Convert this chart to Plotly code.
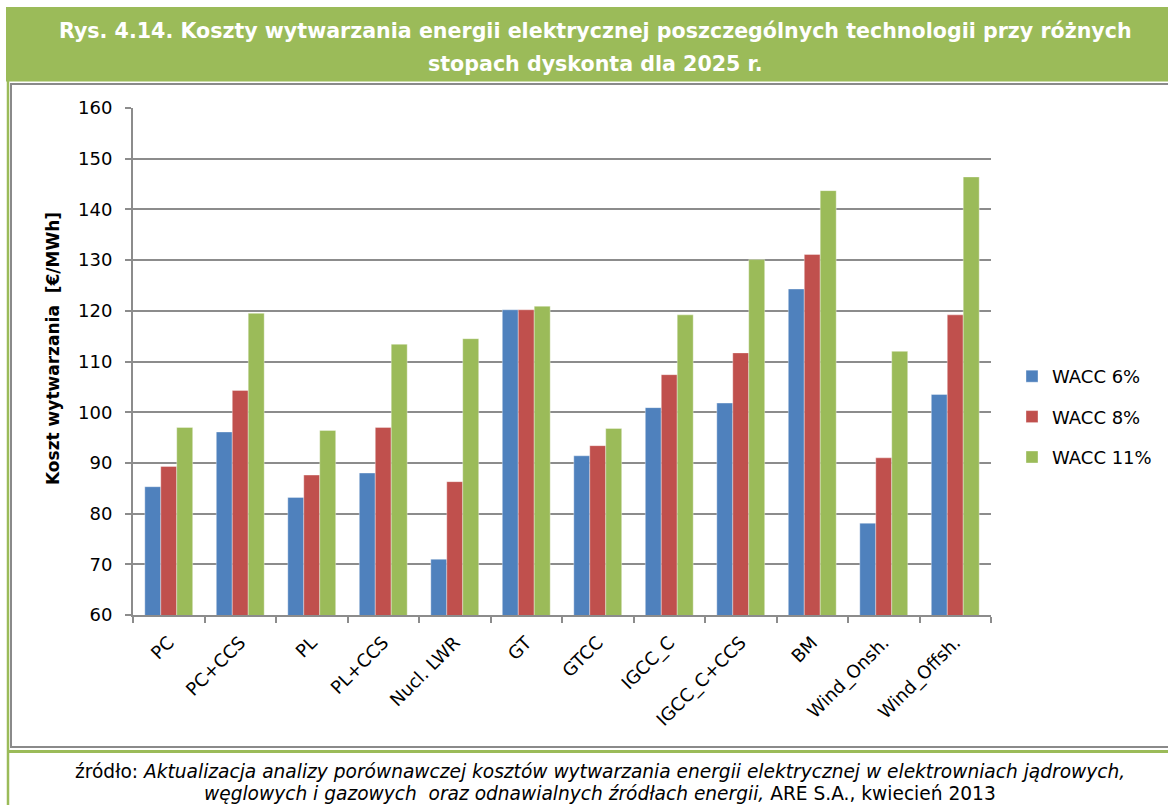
import plotly.graph_objects as go

# dane (EUR/MWh, 2025 r.)
technologie = ["PC", "PC+CCS", "PL", "PL+CCS", "Nucl. LWR", "GT", "GTCC",
               "IGCC_C", "IGCC_C+CCS", "BM", "Wind_Onsh.", "Wind_Offsh."]
wacc_6 = [85.3, 96.1, 83.2, 88.0, 71.0, 120.2, 91.4, 100.9, 101.8, 124.3, 78.1, 103.5]
wacc_8 = [89.3, 104.3, 87.6, 97.0, 86.3, 120.2, 93.4, 107.4, 111.7, 131.1, 91.0, 119.2]
wacc_11 = [97.0, 119.5, 96.4, 113.4, 114.5, 120.9, 96.8, 119.2, 130.1, 143.7, 112.0, 146.4]
serie_nazwy = ["WACC 6%", "WACC 8%", "WACC 11%"]
kolory = ["#4F81BD", "#C0504D", "#9BBB59"]

W, H = 1168, 805
L, R, T, B = 133, 991, 108, 615


def px(x):
    return (x - L) / (R - L)


def py(y):
    return (B - y) / (B - T)


fig = go.Figure()
for nazwa, wartosci, kolor in zip(serie_nazwy, [wacc_6, wacc_8, wacc_11], kolory):
    fig.add_trace(go.Bar(
        x=technologie, y=wartosci, name=nazwa,
        marker=dict(color=kolor, line=dict(color="rgba(255,255,255,0.45)", width=0.8)),
        legendgroup=nazwa,
    ))

grid_col = "#8c8c8c"

fig.update_xaxes(
    showline=True, linecolor=grid_col, linewidth=2,
    ticks="outside", ticklen=6, tickcolor=grid_col, tickwidth=1.5,
    tickson="boundaries", tickangle=-45, ticklabelstandoff=8,
    tickfont=dict(family="DejaVu Sans", size=18, color="#000000"),
    showgrid=False,
)
fig.update_yaxes(
    range=[60, 160], dtick=10, showline=True, linecolor=grid_col, linewidth=2,
    ticks="outside", ticklen=6, tickcolor=grid_col, tickwidth=1.5, ticklabelstandoff=9,
    showgrid=True, gridcolor=grid_col, gridwidth=1.5,
    tickfont=dict(family="DejaVu Sans", size=18, color="#000000"),
    zeroline=False,
)

shapes = [
    # zielony pasek tytułu
    dict(type="rect", xref="paper", yref="paper", x0=px(6), x1=px(1180), y0=py(81.5), y1=py(7),
         fillcolor="#9BBB59", line=dict(width=0), layer="below"),
    # szara ramka wykresu
    dict(type="rect", xref="paper", yref="paper", x0=px(11), x1=px(1190), y0=py(747), y1=py(84),
         line=dict(color="#8a8a8a", width=2), fillcolor="rgba(0,0,0,0)", layer="below"),
    # zielona linia po lewej
    dict(type="line", xref="paper", yref="paper", x0=px(8), x1=px(8), y0=py(810), y1=py(7),
         line=dict(color="#9BBB59", width=2.5)),
    # zielona linia nad źródłem
    dict(type="line", xref="paper", yref="paper", x0=px(7), x1=px(1180), y0=py(751.5), y1=py(751.5),
         line=dict(color="#9BBB59", width=3)),
]

title_font = dict(family="DejaVu Sans", size=20.6, color="#FFFFFF")
footer_font = dict(family="DejaVu Sans", size=18.6, color="#000000")
annotations = [
    dict(text="<b>Rys. 4.14. Koszty wytwarzania energii elektrycznej poszczególnych technologii przy różnych</b>",
         xref="paper", yref="paper", x=px(595), y=py(31), showarrow=False, font=title_font,
         xanchor="center", yanchor="middle"),
    dict(text="<b>stopach dyskonta dla 2025 r.</b>",
         xref="paper", yref="paper", x=px(595), y=py(64), showarrow=False, font=title_font,
         xanchor="center", yanchor="middle"),
    # tytuł osi Y jako adnotacja (w oryginale lekko powyżej środka)
    dict(text="<b>Koszt wytwarzania  [€/MWh]</b>",
         xref="paper", yref="paper", x=px(53), y=py(349), showarrow=False, textangle=-90,
         font=dict(family="DejaVu Sans", size=17, color="#000000"),
         xanchor="center", yanchor="middle"),
    dict(text="źródło: <i>Aktualizacja analizy porównawczej kosztów wytwarzania energii elektrycznej w elektrowniach jądrowych,</i>",
         xref="paper", yref="paper", x=px(600), y=py(771), showarrow=False, font=footer_font,
         xanchor="center", yanchor="middle"),
    dict(text="<i>węglowych i gazowych  oraz odnawialnych źródłach energii,</i> ARE S.A., kwiecień 2013",
         xref="paper", yref="paper", x=px(600), y=py(793), showarrow=False, font=footer_font,
         xanchor="center", yanchor="middle"),
]

fig.update_layout(
    width=W, height=H,
    margin=dict(l=L, r=W - R, t=T, b=H - B, autoexpand=False),
    paper_bgcolor="#FFFFFF", plot_bgcolor="#FFFFFF",
    barmode="group", bargap=0.33, bargroupgap=0,
    showlegend=True,
    legend=dict(x=px(1012), y=py(417), xanchor="left", yanchor="middle",
                font=dict(family="DejaVu Sans", size=18, color="#000000"),
                tracegroupgap=14, bgcolor="rgba(0,0,0,0)"),
    shapes=shapes, annotations=annotations,
    font=dict(family="DejaVu Sans", color="#000000"),
)

# bez marginesu strony, żeby wykres zaczynał się w rogu okna
fig.write_html("out.html", config={"displayModeBar": False},
               post_script="document.body.style.margin='0';")
